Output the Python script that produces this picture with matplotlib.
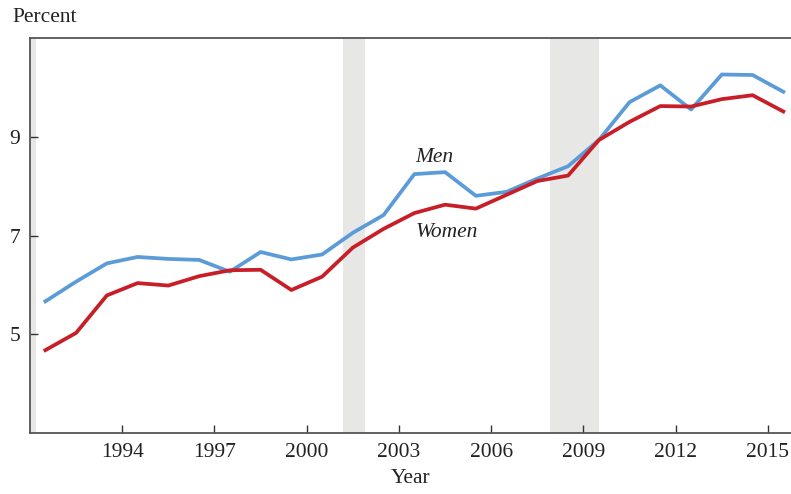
import numpy as np
import matplotlib.pyplot as plt

years = np.arange(1991, 2016) + 0.5
men = [5.67, 6.07, 6.44, 6.57, 6.53, 6.51, 6.27, 6.67, 6.52, 6.62, 7.06, 7.42,
       8.25, 8.29, 7.81, 7.89, 8.16, 8.41, 8.94, 9.71, 10.05, 9.56, 10.27, 10.26, 9.92]
women = [4.68, 5.03, 5.79, 6.04, 5.99, 6.18, 6.30, 6.31, 5.90, 6.17, 6.76, 7.14,
         7.46, 7.63, 7.55, 7.83, 8.11, 8.22, 8.94, 9.31, 9.63, 9.62, 9.77, 9.85, 9.52]
recessions = [(1990.5, 1991.2), (2001.17, 2001.9), (2007.92, 2009.5)]
xticks = [1994, 1997, 2000, 2003, 2006, 2009, 2012, 2015]
yticks = [5, 7, 9]

plt.rcParams['font.family'] = ['Liberation Serif', 'DejaVu Serif']
fig = plt.figure(figsize=(7.91, 4.94), dpi=100)
ax = fig.add_axes([30/791, 1 - 433/494, 1 - 30/791, (433 - 38.5)/494])

for a, b in recessions:
    ax.axvspan(a, b, color='#e7e7e5', lw=0, zorder=0)

ax.plot(years, men, color='#5b9bd8', lw=2.7, zorder=3)
ax.plot(years, women, color='#c81e28', lw=2.7, zorder=4)

ax.text(2004.15, 8.5, 'Men', style='italic', fontsize=15.5, ha='center', color='#222222')
ax.text(2004.57, 6.97, 'Women', style='italic', fontsize=15.5, ha='center', color='#222222')

ax.set_xlim(1991, 2015.75)
ax.set_ylim(3, 11)
ax.set_xticks(xticks)
ax.set_yticks(yticks)
ax.tick_params(direction='in', length=6, width=1, color='#333333', labelsize=15.5,
               labelcolor='#222222')
ax.tick_params(axis='y', pad=7)
ax.tick_params(axis='x', pad=7)
for s in ['left', 'top', 'bottom']:
    ax.spines[s].set_color('#555555')
    ax.spines[s].set_linewidth(1.3)
ax.spines['right'].set_visible(False)

fig.text(12/791, 1 - 18/494, 'Percent', fontsize=15.5, va='center', color='#222222')
fig.text(411/791, 1 - 478/494, 'Year', fontsize=15.5, ha='center', va='center', color='#222222')

fig.savefig('out.png', dpi=100)
